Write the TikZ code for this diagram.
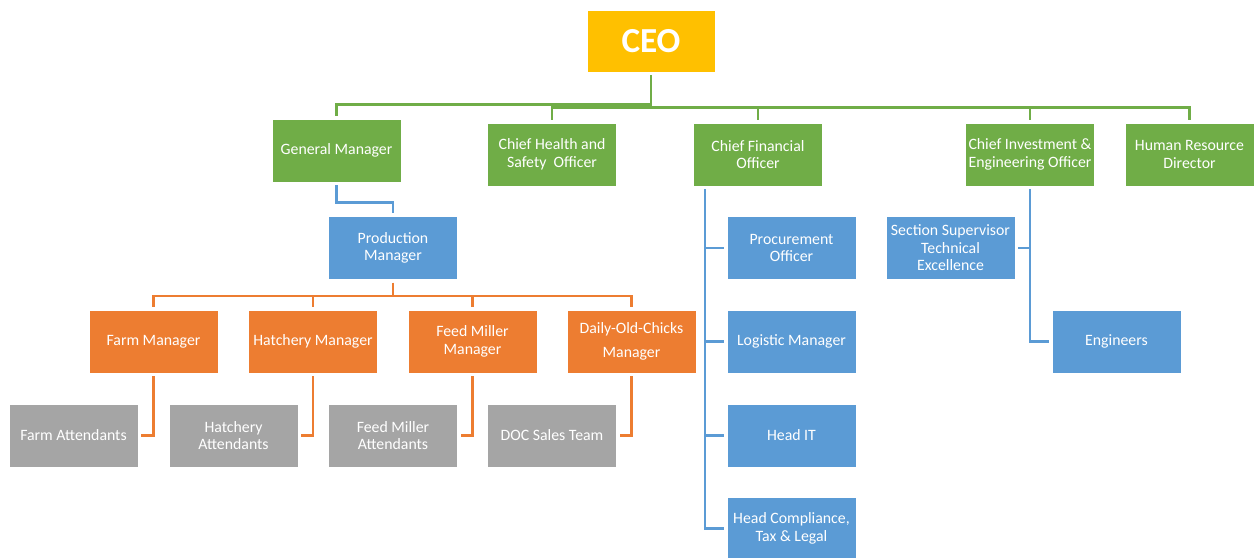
\documentclass[tikz,border=0pt]{standalone}
\usepackage{fontspec}
\setmainfont{Carlito}
\usetikzlibrary{positioning}
\definecolor{boxgreen}{HTML}{70AD47}
\definecolor{boxorange}{HTML}{ED7D31}
\definecolor{boxblue}{HTML}{5B9BD5}
\definecolor{boxgrey}{HTML}{A5A5A5}
\definecolor{boxgold}{HTML}{FFC000}
\tikzset{
  unit/.style={draw=white, line width=0.5pt, fill=#1, text=white, align=center,
    inner sep=0pt, minimum width=2.58cm, minimum height=1.26cm,
    font=\fontsize{9}{10}\selectfont},
  link/.style={draw=#1, line width=1.5pt, shorten <=1.7pt, shorten >=1.7pt}
}
\begin{document}
\begin{tikzpicture}[x=0.02cm, y=-0.02cm]
   \useasboundingbox (0,0) rectangle (1259,558);
   \node[unit=boxgold, minimum width=2.56cm, minimum height=1.24cm,
     font=\fontsize{20}{24}\bfseries\selectfont] (ceo) at (651,41) {CEO};
   \node[unit=boxgreen] (gm) at (336.5,150.5) {General Manager};
   \node[unit=boxgreen] (chso) at (552,154.5) {Chief Health and\\Safety~ Officer};
   \node[unit=boxgreen] (cfo) at (758,154.5) {Chief Financial\\Officer};
   \node[unit=boxgreen] (cieo) at (1030,154.5) {Chief Investment \&\\Engineering Officer};
   \node[unit=boxgreen] (hrd) at (1189.5,154.5) {Human Resource\\Director};
   \node[unit=boxblue] (pm) at (393,248) {Production\\Manager};
   \node[unit=boxorange] (fm) at (153.5,341.5) {Farm Manager};
   \node[unit=boxorange] (hm) at (313,341.5) {Hatchery Manager};
   \node[unit=boxorange] (fmm) at (472.5,341.5) {Feed Miller\\Manager};
   \node[unit=boxorange] (docm) at (631.5,341.5) {Daily-Old-Chicks\\[4pt]Manager};
   \node[unit=boxgrey] (fa) at (73.5,435.5) {Farm Attendants};
   \node[unit=boxgrey] (ha) at (233.5,435.5) {Hatchery\\Attendants};
   \node[unit=boxgrey] (fma) at (393,435.5) {Feed Miller\\Attendants};
   \node[unit=boxgrey] (doc) at (552,435.5) {DOC Sales Team};
   \node[unit=boxblue] (proc) at (791.5,248) {Procurement\\Officer};
   \node[unit=boxblue] (log) at (791.5,341.5) {Logistic Manager};
   \node[unit=boxblue] (it) at (791.5,435.5) {Head IT};
   \node[unit=boxblue] (hc) at (791.5,528.5) {Head Compliance,\\Tax \& Legal};
   \node[unit=boxblue] (sst) at (950.5,248) {Section Supervisor\\Technical\\Excellence};
   \node[unit=boxblue] (eng) at (1116.5,341.5) {Engineers};
   \draw[link=boxgreen] (ceo.south) -- ++(0,32) -| (gm.north);
   \foreach \nm in {chso,cfo,cieo,hrd}
     \draw[link=boxgreen] (ceo.south) -- ++(0,35) -| (\nm.north);
   \draw[link=boxblue] (gm.south) -- ++(0,20) -| (pm.north);
   \foreach \nm in {fm,hm,fmm,docm}
     \draw[link=boxorange] (pm.south) -- ++(0,16) -| (\nm.north);
   \foreach \up/\down in {fm/fa,hm/ha,fmm/fma,docm/doc}
     \draw[link=boxorange] (\up.south) |- (\down.east);
   \foreach \nm in {proc,log,it,hc}
     \draw[link=boxblue] ([xshift=0.24cm]cfo.south west) |- (\nm.west);
   \draw[link=boxblue] (cieo.south) |- (sst.east);
   \draw[link=boxblue] (cieo.south) |- (eng.west);
\end{tikzpicture}
\end{document}
